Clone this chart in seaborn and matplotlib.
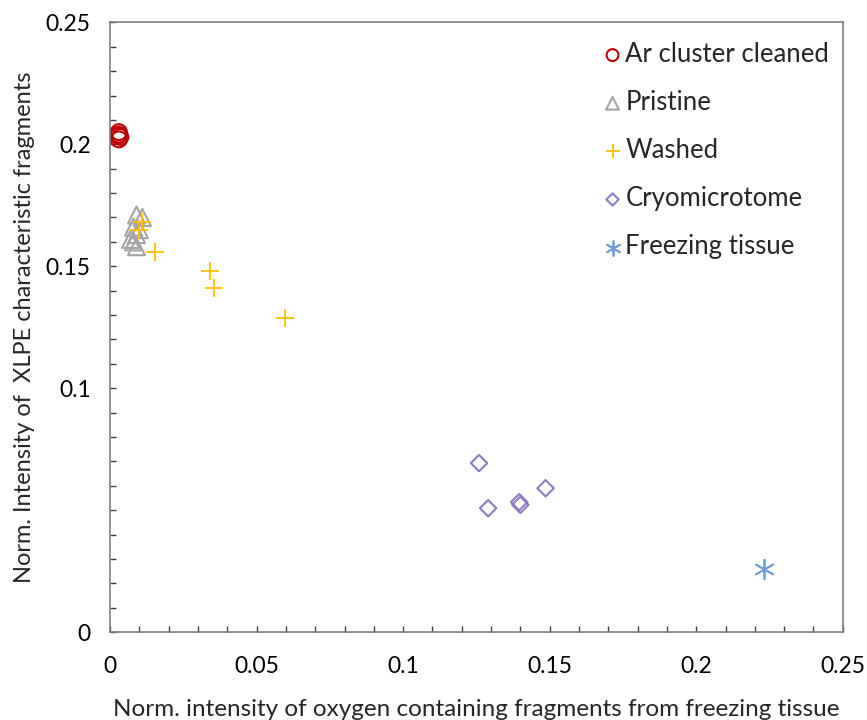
import matplotlib
matplotlib.use("Agg")
import matplotlib.pyplot as plt
import seaborn as sns
import pandas as pd
from matplotlib.ticker import MultipleLocator

sns.set_theme(style="white")
plt.rcParams['font.family'] = ['Lato', 'DejaVu Sans']

groups = ["Ar cluster cleaned", "Pristine", "Washed", "Cryomicrotome", "Freezing tissue"]

ar_x = [0.003, 0.003, 0.0035, 0.003, 0.0028]
ar_y = [0.205, 0.204, 0.203, 0.202, 0.2035]

pristine_x = [0.009, 0.011, 0.008, 0.010, 0.009, 0.007, 0.008, 0.009]
pristine_y = [0.171, 0.170, 0.166, 0.165, 0.163, 0.161, 0.160, 0.158]

washed_x = [0.010, 0.011, 0.0152, 0.034, 0.0354, 0.0598]
washed_y = [0.165, 0.168, 0.1557, 0.148, 0.141, 0.1287]

cryo_x = [0.1259, 0.129, 0.1396, 0.140, 0.1486]
cryo_y = [0.0693, 0.0508, 0.0533, 0.0522, 0.059]

freeze_x = [0.2232]
freeze_y = [0.0258]

xs = [ar_x, pristine_x, washed_x, cryo_x, freeze_x]
ys = [ar_y, pristine_y, washed_y, cryo_y, freeze_y]
colors = ["#C00000", "#A5A5A5", "#FFC000", "#8E7CC3", "#6F9FDB"]
markers = ["o", "^", "+", "D", (6, 2, 0)]
sizes = [130, 150, 170, 70, 200]
filled = [False, False, True, False, True]

fig = plt.figure(figsize=(8.67, 7.2), dpi=100)
ax = fig.add_axes([0.127, 0.122, 0.845, 0.847])

for g, x, y, c, m, s, f in zip(groups, xs, ys, colors, markers, sizes, filled):
    df = pd.DataFrame({"x": x, "y": y})
    if f:
        sns.scatterplot(data=df, x="x", y="y", ax=ax, marker=m, s=s, color=c,
                        linewidth=1.3, label=g)
    else:
        sns.scatterplot(data=df, x="x", y="y", ax=ax, marker=m, s=s,
                        facecolors="none", edgecolor=c, linewidth=1.5, label=g)

ax.set_xlim(0, 0.25)
ax.set_ylim(0, 0.25)
ax.set_xticks([0, 0.05, 0.1, 0.15, 0.2, 0.25])
ax.set_xticklabels(["0", "0.05", "0.1", "0.15", "0.2", "0.25"])
ax.set_yticks([0, 0.1, 0.15, 0.2, 0.25])
ax.set_yticklabels(["0", "0.1", "0.15", "0.2", "0.25"])
ax.xaxis.set_minor_locator(MultipleLocator(0.01))
ax.yaxis.set_minor_locator(MultipleLocator(0.01))
ax.tick_params(which="both", direction="in", length=4, width=1, color="#404040",
               bottom=True, left=True, top=False, right=False)
ax.tick_params(which="major", labelsize=16.5, colors="#404040", labelcolor="black")
ax.tick_params(axis="x", which="major", pad=17)
ax.tick_params(axis="y", which="major", pad=14)
for sp in ax.spines.values():
    sp.set_color("#7f7f7f")
    sp.set_linewidth(1.2)

ax.set_xlabel("Norm. intensity of oxygen containing fragments from freezing tissue",
              fontsize=17.5, labelpad=16)
ax.set_ylabel("Norm. Intensity of  XLPE characteristic fragments", fontsize=17, labelpad=8)

leg = ax.legend(loc="upper left", frameon=False, fontsize=18.5, handletextpad=0.05,
                labelspacing=0.9, markerscale=0.75, borderaxespad=0.0, borderpad=0.0,
                handlelength=0.9, bbox_to_anchor=(0.67, 0.968))

fig.savefig("out.png", dpi=100)
